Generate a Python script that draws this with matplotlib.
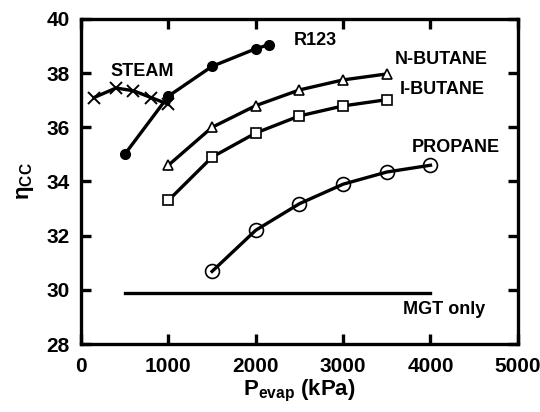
import matplotlib
matplotlib.use("Agg")
import matplotlib.pyplot as plt

plt.rcParams['font.family'] = ['Liberation Sans', 'DejaVu Sans']
plt.rcParams['font.weight'] = 'bold'
plt.rcParams['mathtext.fontset'] = 'custom'
plt.rcParams['mathtext.rm'] = 'Liberation Sans'
plt.rcParams['mathtext.it'] = 'Liberation Sans:italic'
plt.rcParams['mathtext.bf'] = 'Liberation Sans:bold'

# Evaporator pressure (kPa) and combined-cycle efficiency (%) per working fluid
steam_p = [150, 400, 600, 800, 1000]
steam_eta = [37.1, 37.45, 37.35, 37.1, 36.85]

r123_p = [500, 1000, 1500, 2000, 2150]
r123_eta = [35.0, 37.15, 38.25, 38.9, 39.05]

nbutane_p = [1000, 1500, 2000, 2500, 3000, 3500]
nbutane_eta = [34.6, 36.0, 36.8, 37.38, 37.75, 37.97]

ibutane_p = [1000, 1500, 2000, 2500, 3000, 3500]
ibutane_eta = [33.3, 34.9, 35.79, 36.42, 36.79, 37.02]

propane_p = [1500, 2000, 2500, 3000, 3500, 4000]
propane_eta = [30.68, 32.2, 33.18, 33.9, 34.35, 34.6]

mgt_p = [500, 4000]
mgt_eta = [29.9, 29.9]

fig = plt.figure(figsize=(5.4, 4.12), dpi=100)
ax = fig.add_axes([0.15, 0.165, 0.809, 0.789])

lw = 2.4
ax.plot(steam_p, steam_eta, color='black', lw=lw, marker='x', ms=8, mew=1.4)
ax.plot(r123_p, r123_eta, color='black', lw=lw, marker='o', ms=7)
ax.plot(nbutane_p, nbutane_eta, color='black', lw=lw, marker='^', ms=7,
        mfc='white', mew=1.2)
ax.plot(ibutane_p, ibutane_eta, color='black', lw=lw, marker='s', ms=7,
        mfc='white', mew=1.2)
ax.plot(propane_p, propane_eta, color='black', lw=lw, marker='o', ms=10,
        mfc='none', mew=1.2)
ax.plot(mgt_p, mgt_eta, color='black', lw=lw)

fs = 13
ax.text(700, 38.05, 'STEAM', fontsize=fs, fontweight='bold', ha='center', va='center')
ax.text(2430, 39.2, 'R123', fontsize=fs, fontweight='bold', ha='left', va='center')
ax.text(3590, 38.5, 'N-BUTANE', fontsize=fs, fontweight='bold', ha='left', va='center')
ax.text(3650, 37.38, 'I-BUTANE', fontsize=fs, fontweight='bold', ha='left', va='center')
ax.text(3790, 35.24, 'PROPANE', fontsize=fs, fontweight='bold', ha='left', va='center')
ax.text(3690, 29.26, 'MGT only', fontsize=fs, fontweight='bold', ha='left', va='center')

ax.set_xlim(0, 5000)
ax.set_ylim(28, 40)
ax.set_xticks([0, 1000, 2000, 3000, 4000, 5000])
ax.set_yticks([28, 30, 32, 34, 36, 38, 40])
ax.tick_params(direction='in', length=7, width=2.4, top=True, right=True,
               labelsize=15)
ax.tick_params(axis='x', pad=9)
ax.tick_params(axis='y', pad=8)
for lab in ax.get_xticklabels() + ax.get_yticklabels():
    lab.set_fontweight('bold')
for sp in ax.spines.values():
    sp.set_linewidth(2.4)

ax.set_xlabel(r'$\mathbf{P}_{\mathbf{evap}}$ (kPa)', fontsize=16, fontweight='bold', labelpad=2)
ax.set_ylabel(r'$\mathrm{\eta}_{\mathrm{CC}}$', fontsize=16, labelpad=8)

fig.savefig('out.png', dpi=100)
